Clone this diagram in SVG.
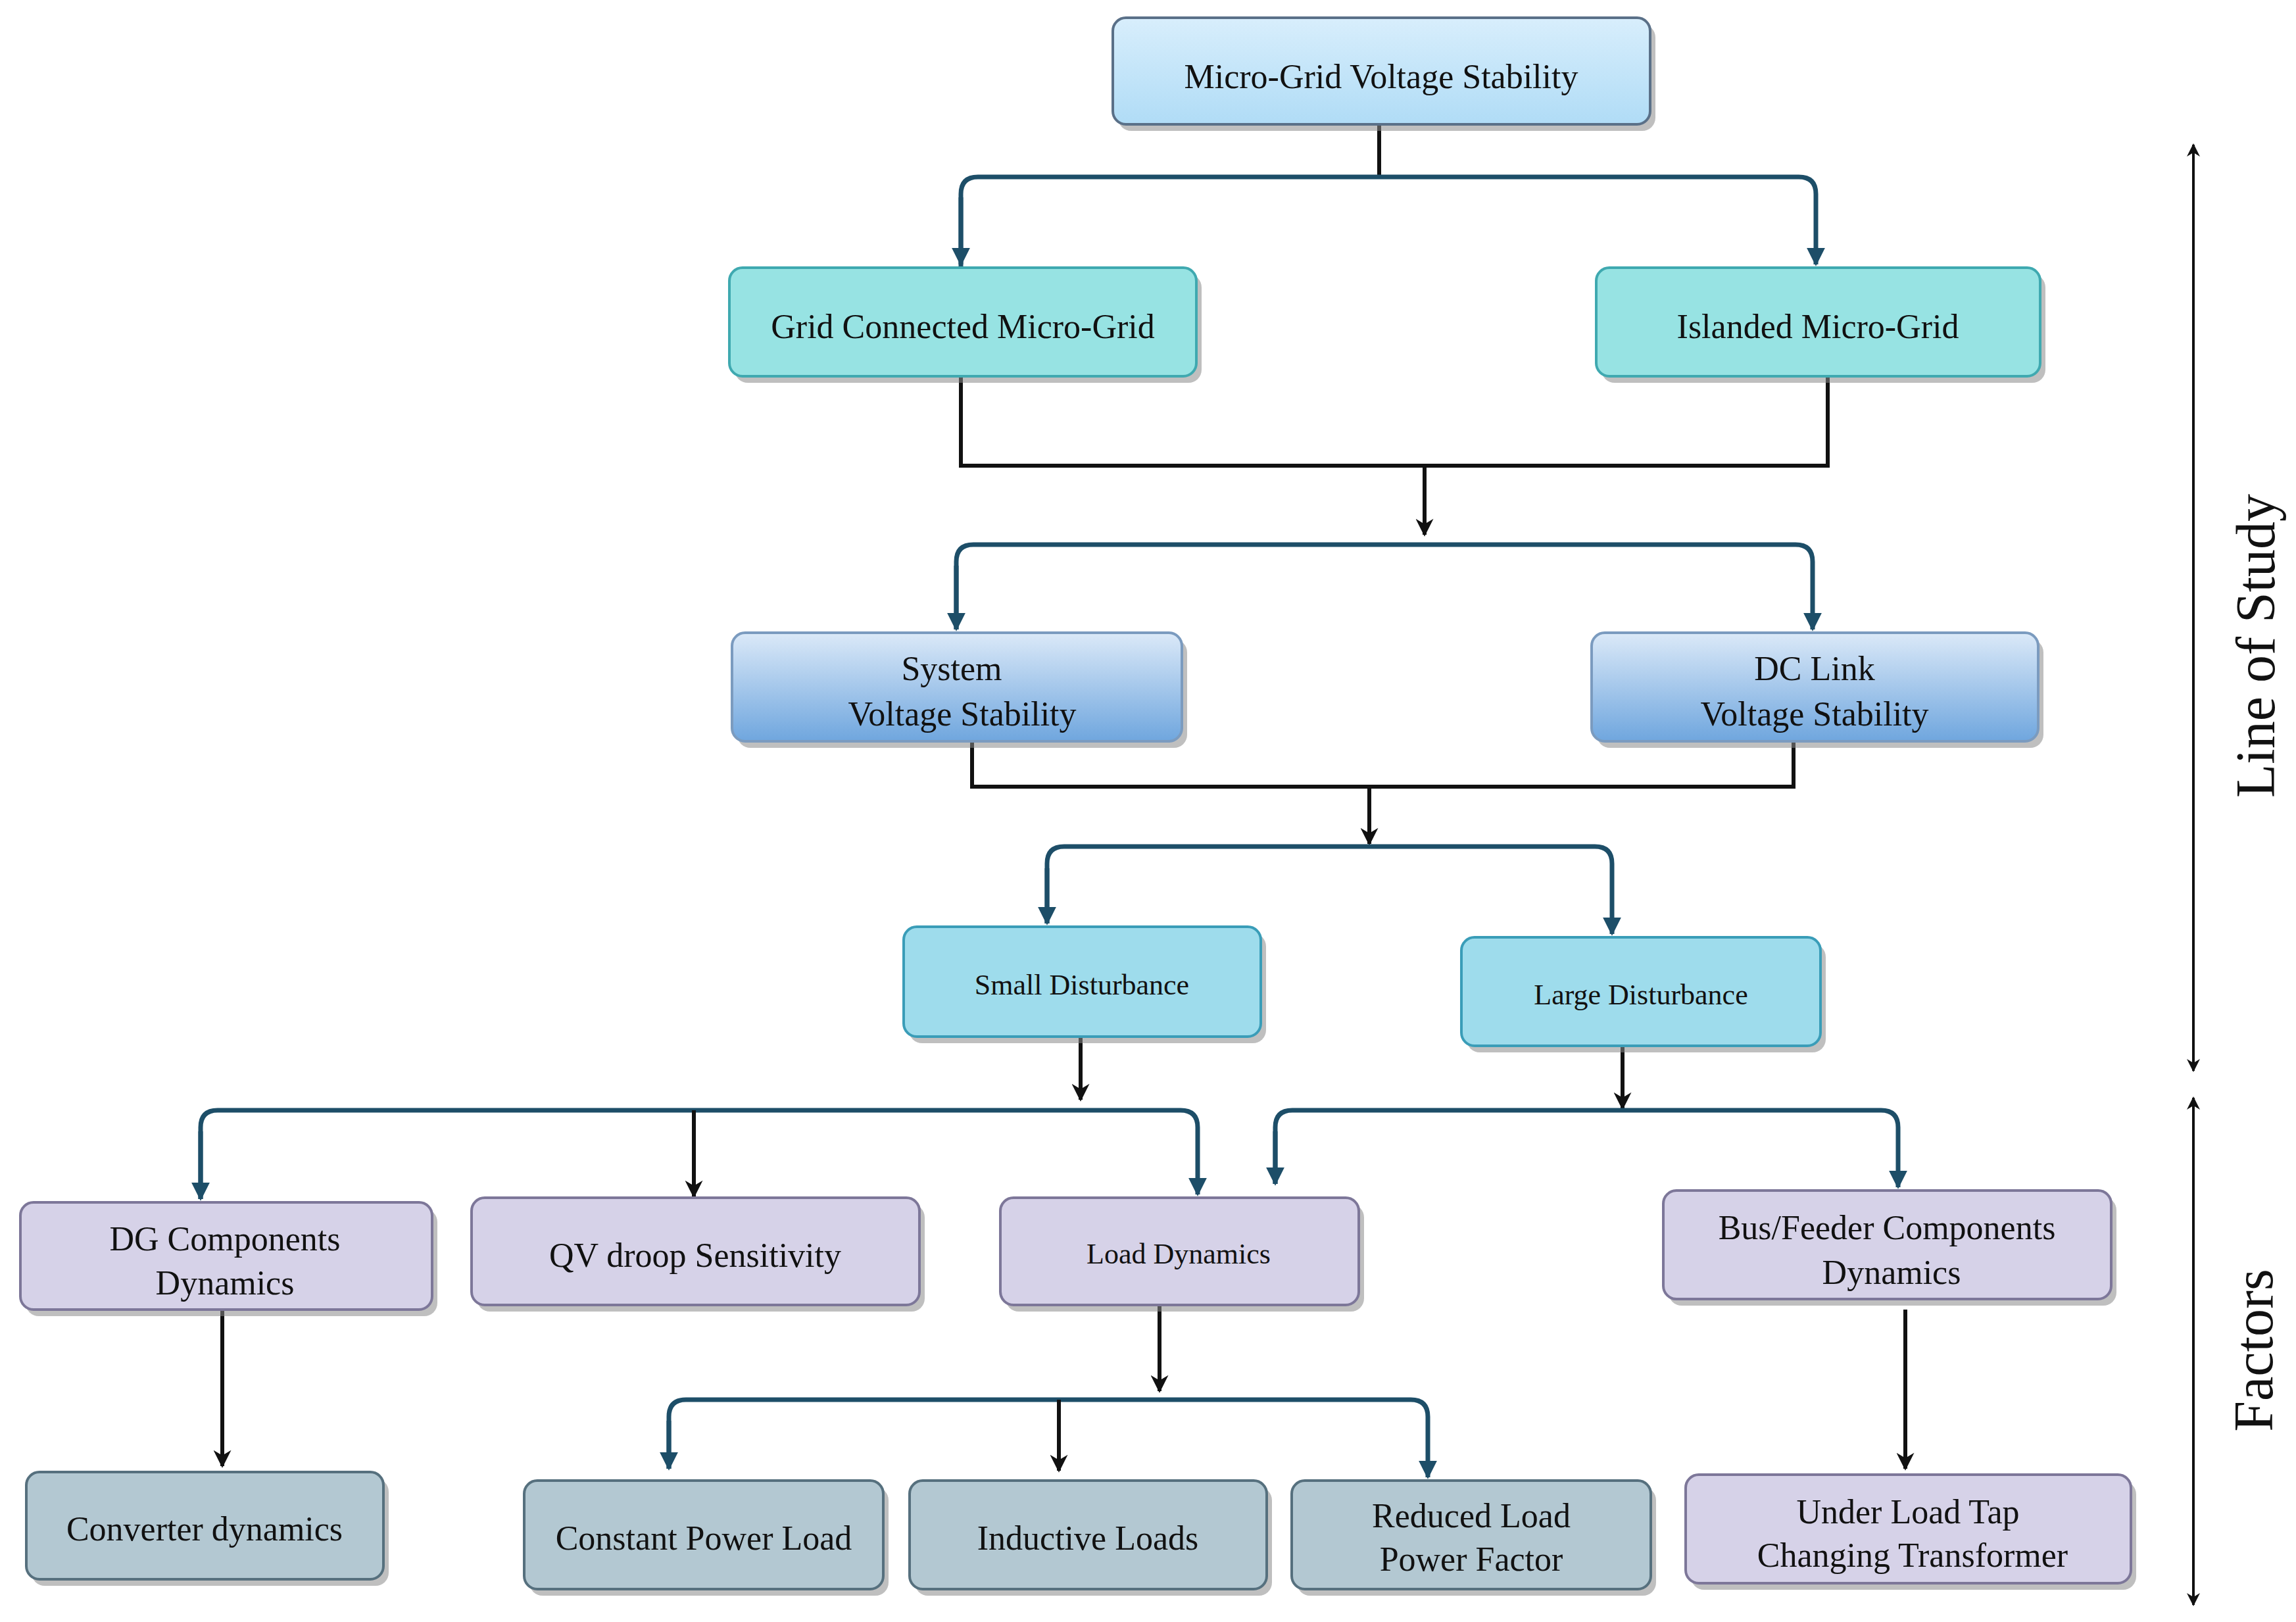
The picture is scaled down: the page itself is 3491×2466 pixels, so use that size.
<svg xmlns="http://www.w3.org/2000/svg" width="3491" height="2466" viewBox="0 0 3491 2466">
<style>
text{font-family:"Liberation Serif",serif;fill:#111;text-anchor:middle;dominant-baseline:central}
.l{font-size:52px}.s{font-size:44px}
.sh{fill:#8a8a8a;opacity:.55}
.c1{fill:url(#g1);stroke:#5a7088;stroke-width:4}
.c2{fill:#97e3e3;stroke:#3fa9b0;stroke-width:4}
.c3{fill:url(#g3);stroke:#7b9bbf;stroke-width:4}
.c4{fill:#9edcec;stroke:#3a9db8;stroke-width:4}
.c5{fill:#d6d2e8;stroke:#7d7799;stroke-width:4}
.c6{fill:#b3c8d2;stroke:#56707e;stroke-width:4}
.t{fill:none;stroke:#1d4e68;stroke-width:7}
.b{fill:none;stroke:#111;stroke-width:6}
</style>
<defs>
<linearGradient id="g1" x1="0" y1="0" x2="0" y2="1"><stop offset="0" stop-color="#d8eefc"/><stop offset="1" stop-color="#b0dcf6"/></linearGradient>
<linearGradient id="g3" x1="0" y1="0" x2="0" y2="1"><stop offset="0" stop-color="#dbe9f8"/><stop offset="1" stop-color="#6fa6de"/></linearGradient>
<marker id="at" viewBox="0 0 10 10" refX="9" refY="5" markerWidth="4" markerHeight="5" markerUnits="strokeWidth" orient="auto"><path d="M0,0L10,5L0,10z" fill="#1d4e68"/></marker>
<marker id="ab" viewBox="0 0 10 10" refX="9" refY="5" markerWidth="5" markerHeight="4.5" markerUnits="strokeWidth" orient="auto"><path d="M0,0L10,5L0,10L3,5z" fill="#111"/></marker>
<marker id="ar" viewBox="0 0 10 10" refX="9" refY="5" markerWidth="6" markerHeight="5" markerUnits="strokeWidth" orient="auto-start-reverse"><path d="M0,0L10,5L0,10L3,5z" fill="#111"/></marker>
</defs>
<g id="connectors">
<path class="b" d="M2097,189V269"/>
<path class="t" d="M1461,407V295Q1461,269 1487,269H2735Q2761,269 2761,295V402" marker-end="url(#at)"/>
<path class="t" d="M1461,300V402" marker-end="url(#at)"/>
<path class="b" d="M1461,572V708M2779,572V708M1458,708H2782"/>
<path class="b" d="M2166,708V813" marker-end="url(#ab)"/>
<path class="t" d="M1454,957V854Q1454,828 1480,828H2730Q2756,828 2756,854V957" marker-end="url(#at)"/>
<path class="t" d="M1454,860V957" marker-end="url(#at)"/>
<path class="b" d="M1478,1127V1196M2727,1127V1196M1475,1196H2730"/>
<path class="b" d="M2082,1196V1283" marker-end="url(#ab)"/>
<path class="t" d="M1592,1404V1313Q1592,1287 1618,1287H2425Q2451,1287 2451,1313V1420" marker-end="url(#at)"/>
<path class="t" d="M1592,1320V1404" marker-end="url(#at)"/>
<path class="b" d="M1643,1576V1672" marker-end="url(#ab)"/>
<path class="t" d="M305,1823V1714Q305,1688 331,1688H1795Q1821,1688 1821,1714V1816" marker-end="url(#at)"/>
<path class="t" d="M305,1720V1823" marker-end="url(#at)"/>
<path class="b" d="M1055,1688V1819" marker-end="url(#ab)"/>
<path class="b" d="M2467,1590V1685" marker-end="url(#ab)"/>
<path class="t" d="M1939,1800V1714Q1939,1688 1965,1688H2860Q2886,1688 2886,1714V1805" marker-end="url(#at)"/>
<path class="t" d="M1939,1720V1800" marker-end="url(#at)"/>
<path class="b" d="M338,1991V2229" marker-end="url(#ab)"/>
<path class="b" d="M1763,1984V2115" marker-end="url(#ab)"/>
<path class="t" d="M1017,2233V2154Q1017,2128 1043,2128H2145Q2171,2128 2171,2154V2246" marker-end="url(#at)"/>
<path class="t" d="M1017,2160V2233" marker-end="url(#at)"/>
<path class="b" d="M1610,2128V2236" marker-end="url(#ab)"/>
<path class="b" d="M2897,1991V2233" marker-end="url(#ab)"/>
<path class="b" style="stroke-width:4" d="M3335,220V1628" marker-start="url(#ar)" marker-end="url(#ar)"/>
<path class="b" style="stroke-width:4" d="M3335,1669V2440" marker-start="url(#ar)" marker-end="url(#ar)"/>
</g>
<g id="n-top"><rect class="sh" x="1700" y="37" width="817" height="162" rx="20"/><rect class="c1" x="1692" y="27" width="817" height="162" rx="20"/><text class="l" x="2100" y="116">Micro-Grid Voltage Stability</text></g>
<g id="n-grid"><rect class="sh" x="1117" y="417" width="710" height="165" rx="20"/><rect class="c2" x="1109" y="407" width="710" height="165" rx="20"/><text class="l" x="1464" y="496">Grid Connected Micro-Grid</text></g>
<g id="n-isl"><rect class="sh" x="2435" y="417" width="675" height="165" rx="20"/><rect class="c2" x="2427" y="407" width="675" height="165" rx="20"/><text class="l" x="2764" y="496">Islanded Micro-Grid</text></g>
<g id="n-sys"><rect class="sh" x="1121" y="972" width="684" height="165" rx="20"/><rect class="c3" x="1113" y="962" width="684" height="165" rx="20"/><text class="l" x="1447" y="1016">System</text><text class="l" x="1463" y="1085">Voltage Stability</text></g>
<g id="n-dc"><rect class="sh" x="2428" y="972" width="679" height="165" rx="20"/><rect class="c3" x="2420" y="962" width="679" height="165" rx="20"/><text class="l" x="2759" y="1016">DC Link</text><text class="l" x="2759" y="1085">Voltage Stability</text></g>
<g id="n-small"><rect class="sh" x="1382" y="1419" width="543" height="167" rx="20"/><rect class="c4" x="1374" y="1409" width="543" height="167" rx="20"/><text class="s" x="1645" y="1497">Small Disturbance</text></g>
<g id="n-large"><rect class="sh" x="2230" y="1435" width="546" height="165" rx="20"/><rect class="c4" x="2222" y="1425" width="546" height="165" rx="20"/><text class="s" x="2495" y="1512">Large Disturbance</text></g>
<g id="n-dg"><rect class="sh" x="39" y="1838" width="626" height="163" rx="20"/><rect class="c5" x="31" y="1828" width="626" height="163" rx="20"/><text class="l" x="342" y="1883">DG Components</text><text class="l" x="342" y="1950">Dynamics</text></g>
<g id="n-qv"><rect class="sh" x="725" y="1831" width="681" height="163" rx="20"/><rect class="c5" x="717" y="1821" width="681" height="163" rx="20"/><text class="l" x="1057" y="1908">QV droop Sensitivity</text></g>
<g id="n-load"><rect class="sh" x="1529" y="1831" width="545" height="163" rx="20"/><rect class="c5" x="1521" y="1821" width="545" height="163" rx="20"/><text class="s" x="1792" y="1906">Load Dynamics</text></g>
<g id="n-bus"><rect class="sh" x="2537" y="1820" width="681" height="165" rx="20"/><rect class="c5" x="2529" y="1810" width="681" height="165" rx="20"/><text class="l" x="2869" y="1866">Bus/Feeder Components</text><text class="l" x="2876" y="1934">Dynamics</text></g>
<g id="n-conv"><rect class="sh" x="48" y="2248" width="543" height="163" rx="20"/><rect class="c6" x="40" y="2238" width="543" height="163" rx="20"/><text class="l" x="311" y="2324">Converter dynamics</text></g>
<g id="n-cpl"><rect class="sh" x="805" y="2261" width="546" height="165" rx="20"/><rect class="c6" x="797" y="2251" width="546" height="165" rx="20"/><text class="l" x="1070" y="2338">Constant Power Load</text></g>
<g id="n-ind"><rect class="sh" x="1391" y="2261" width="543" height="165" rx="20"/><rect class="c6" x="1383" y="2251" width="543" height="165" rx="20"/><text class="l" x="1654" y="2338">Inductive Loads</text></g>
<g id="n-red"><rect class="sh" x="1972" y="2261" width="546" height="165" rx="20"/><rect class="c6" x="1964" y="2251" width="546" height="165" rx="20"/><text class="l" x="2237" y="2304">Reduced Load</text><text class="l" x="2237" y="2370">Power Factor</text></g>
<g id="n-ultc"><rect class="sh" x="2571" y="2252" width="677" height="165" rx="20"/><rect class="c5" x="2563" y="2242" width="677" height="165" rx="20"/><text class="l" x="2901" y="2298">Under Load Tap</text><text class="l" x="2908" y="2364">Changing Transformer</text></g>
<text x="3429" y="982" transform="rotate(-90 3429 982)" style="font-size:84px">Line of Study</text>
<text x="3426" y="2053" transform="rotate(-90 3426 2053)" style="font-size:84px">Factors</text>
</svg>
